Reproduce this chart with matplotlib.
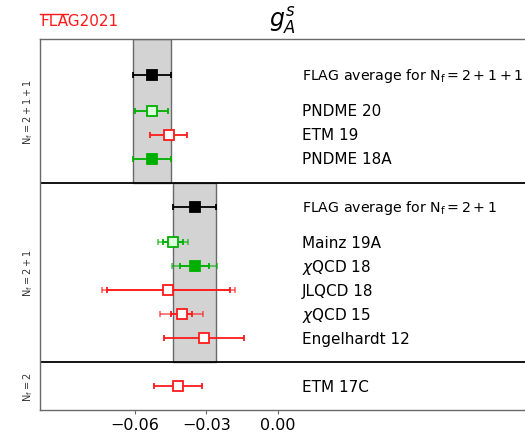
import numpy as np
import matplotlib
matplotlib.use("Agg")
import matplotlib.pyplot as plt
from matplotlib.lines import Line2D

# Nf = 2+1+1
labels_4 = ["PNDME 20", "ETM 19", "PNDME 18A"]
vals_4 = [-0.053, -0.0458, -0.053]
err_4 = [0.007, 0.0078, 0.008]
fill_4 = ["lightgreen", "white", "green"]
col_4 = ["green", "red", "green"]
avg_4 = -0.053
avg_err_4 = 0.008

# Nf = 2+1
labels_3 = ["Mainz 19A", r"$\chi$QCD 18", "JLQCD 18", r"$\chi$QCD 15", "Engelhardt 12"]
vals_3 = [-0.0440, -0.035, -0.046, -0.0404, -0.031]
stat_3 = [0.0042, 0.006, 0.026, 0.0044, 0.017]
tot_3 = [0.0064, 0.0093, 0.028, 0.009, 0.017]
fill_3 = ["lightgreen", "green", "white", "white", "white"]
col_3 = ["green", "green", "red", "red", "red"]
avg_3 = -0.035
avg_err_3 = 0.009

# Nf = 2
labels_2 = ["ETM 17C"]
vals_2 = [-0.042]
err_2 = [0.010]
fill_2 = ["white"]
col_2 = ["red"]

colmap = {"green": "#00b000", "red": "#ff1a1a", "lightgreen": "#dcffdc",
          "white": "white", "black": "black"}

fig = plt.figure(figsize=(5.25, 4.35), dpi=100)
ax = fig.add_axes([40 / 525, 1 - 411 / 435, 1 - 40 / 525, 371 / 435])
ax.set_xlim(-0.1, 0.104)
ax.set_ylim(0, 15.5)


def point(y, x, err, col, fill, tot=None):
    c = colmap[col]
    if tot is not None and tot > err:
        ax.errorbar(x, y, xerr=tot, fmt="none", ecolor=c, alpha=0.6,
                    elinewidth=1.3, capsize=2.5, capthick=1.3, zorder=3)
    ax.errorbar(x, y, xerr=err, fmt="s", color=c, ecolor=c, mfc=colmap[fill],
                mec=c, ms=7, mew=1.3, elinewidth=1.3, capsize=2.5,
                capthick=1.3, zorder=4)


# bands
ax.fill_betweenx([9.5, 15.5], avg_4 - avg_err_4, avg_4 + avg_err_4,
                 facecolor="lightgray", edgecolor="dimgray", lw=1.0, zorder=1)
ax.fill_betweenx([2, 9.5], avg_3 - avg_err_3, avg_3 + avg_err_3,
                 facecolor="lightgray", edgecolor="dimgray", lw=1.0, zorder=1)

xt = 0.0102
fs = 11

# top panel
point(14, avg_4, avg_err_4, "black", "black")
ax.text(xt, 14, r"FLAG average for $\mathrm{N_f=2+1+1}$", fontsize=10.2,
        va="center")
for i, (lab, v, e) in enumerate(zip(labels_4, vals_4, err_4)):
    y = 12.5 - i
    point(y, v, e, col_4[i], fill_4[i])
    ax.text(xt, y, lab, fontsize=fs, va="center")

# middle panel
point(8.5, avg_3, avg_err_3, "black", "black")
ax.text(xt, 8.5, r"FLAG average for $\mathrm{N_f=2+1}$", fontsize=10.2,
        va="center")
for i, lab in enumerate(labels_3):
    y = 7 - i
    point(y, vals_3[i], stat_3[i], col_3[i], fill_3[i], tot_3[i])
    ax.text(xt, y, lab, fontsize=fs, va="center")

# bottom panel
for i, lab in enumerate(labels_2):
    point(1 - i, vals_2[i], err_2[i], col_2[i], fill_2[i])
    ax.text(xt, 1 - i, lab, fontsize=fs, va="center")

# separators
ax.axhline(9.5, color="black", lw=1.3, zorder=2)
ax.axhline(2, color="black", lw=1.3, zorder=2)

# Nf labels
for yc, lab in [(12.5, r"$\mathrm{N_f=2+1+1}$"), (5.75, r"$\mathrm{N_f=2+1}$"),
                (1.0, r"$\mathrm{N_f=2}$")]:
    ax.text(-0.105, yc, lab, rotation=90, fontsize=7, ha="center", va="center",
            color="#333333", clip_on=False)

ax.set_yticks([])
ax.set_xticks([-0.06, -0.03, 0.0])
ax.set_xticklabels(["\u22120.06", "\u22120.03", "0.00"], fontsize=11.5)
ax.tick_params(axis="x", colors="dimgray", labelcolor="black", length=3, pad=2)
for s in ["left", "top", "bottom"]:
    ax.spines[s].set_color("dimgray")
    ax.spines[s].set_linewidth(1.0)
ax.spines["right"].set_visible(False)

fig.text(283 / 525, 1 - 20 / 435, r"$g_A^s$", fontsize=17, ha="center", va="center")

# FLAG logo with overline over "FLA"
base_y = 1 - 26 / 435
logo = fig.text(40 / 525, base_y, "FLAG2021", color="#ff1a1a", fontsize=11,
                ha="left", va="baseline")
part = fig.text(40 / 525, base_y, "FLA", fontsize=11, ha="left", va="baseline")
bb = part.get_window_extent(fig.canvas.get_renderer())
part.remove()
x0, x1 = bb.x0 / 525, bb.x1 / 525
yl = base_y + 11.3 / 435
fig.add_artist(Line2D([x0, x1], [yl, yl], color="#ff1a1a", lw=1.0,
                      transform=fig.transFigure))

fig.savefig("out.png", dpi=100)
